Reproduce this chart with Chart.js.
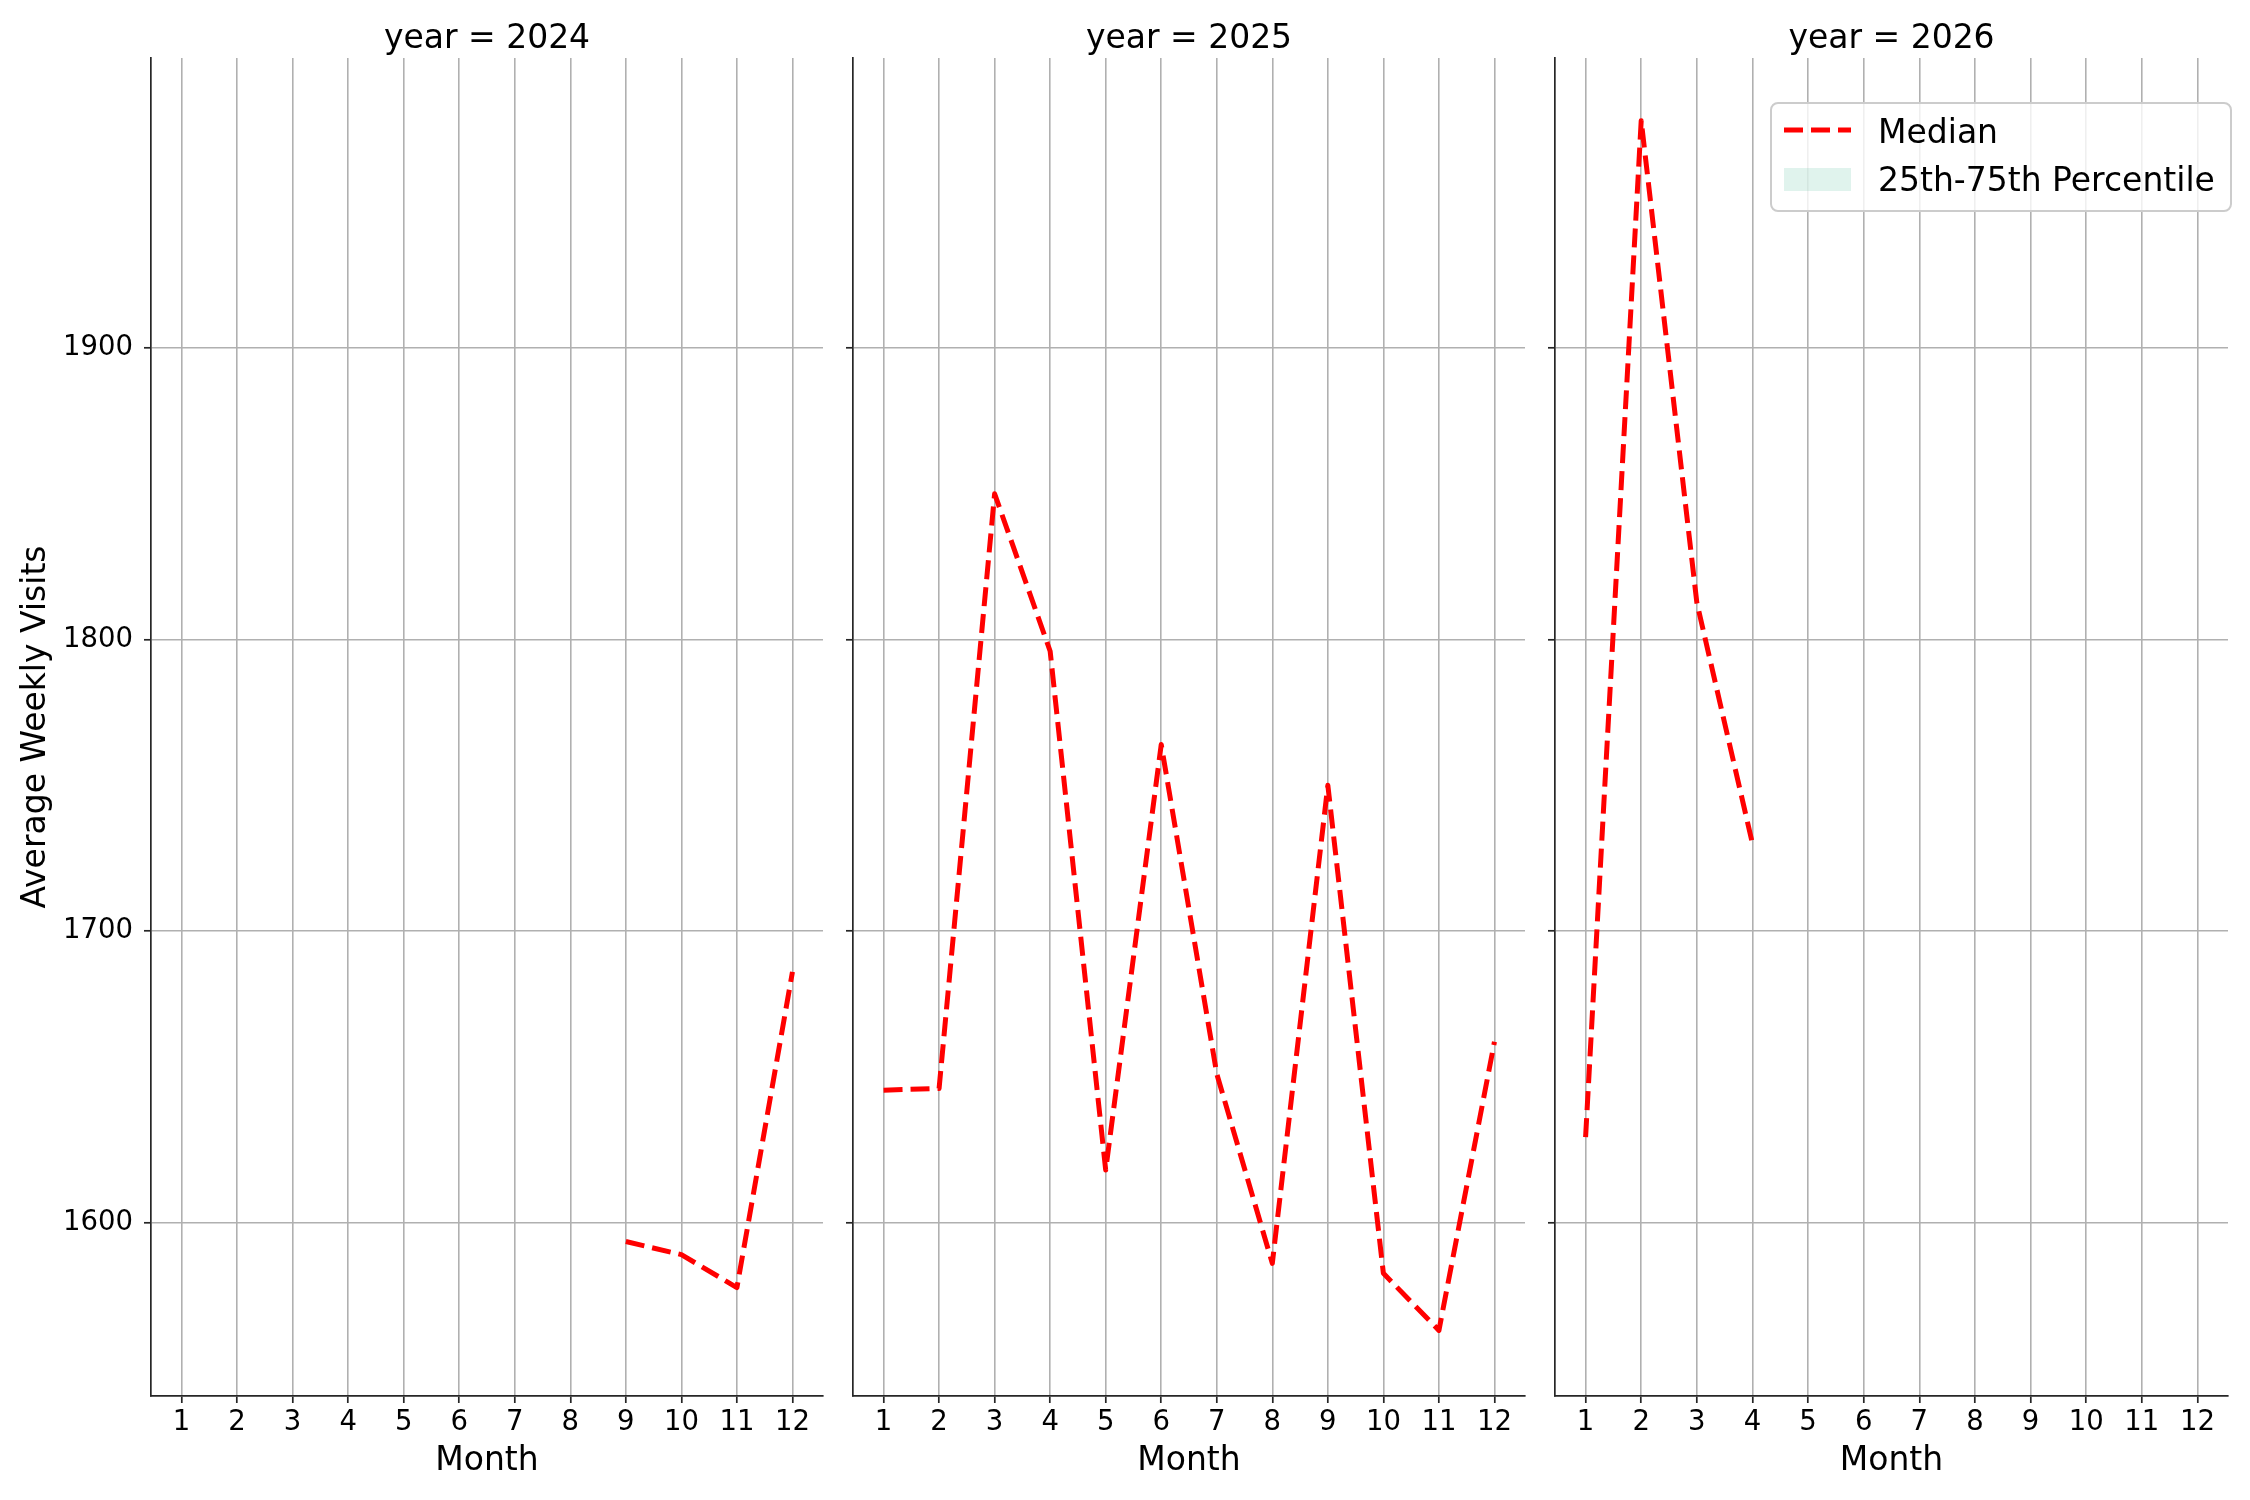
<!DOCTYPE html>
<html>
<head>
<meta charset="utf-8">
<title>Average Weekly Visits by Month</title>
<script src="https://cdn.jsdelivr.net/npm/chart.js@4.4.1/dist/chart.umd.min.js"></script>
<style>
    html, body { margin: 0; padding: 0; background: #ffffff; }
    #page { position: relative; width: 2250px; height: 1500px; overflow: hidden; }
    .panel { position: absolute; top: 0; height: 1500px; }
</style>
</head>
<body>
<div id="page">
    <div class="panel" style="left: 0px; width: 831px;"><canvas id="c2024"></canvas></div>
    <div class="panel" style="left: 843px; width: 690px;"><canvas id="c2025"></canvas></div>
    <div class="panel" style="left: 1545px; width: 693px;"><canvas id="c2026"></canvas></div>
</div>
<script>
const months = [1, 2, 3, 4, 5, 6, 7, 8, 9, 10, 11, 12];
const years = [2024, 2025, 2026];

const median2024 = [null, null, null, null, null, null, null, null, 1593.5, 1589, 1577.7, 1686];
const median2025 = [1645.4, 1646, 1850, 1796, 1618, 1764, 1651, 1586, 1750, 1582.6, 1563, 1662];
const median2026 = [1629.3, 1978, 1812.7, 1730, null, null, null, null, null, null, null, null];

const yTicks = [1600, 1700, 1800, 1900];
const yMin = 1540.5;
const yMax = 1999.5;
const xMin = 0.45;
const xMax = 12.55;

const seriesLabel = 'Median';
const bandLabel = '25th-75th Percentile';

const FONT = '"DejaVu Sans", "Liberation Sans", sans-serif';
const INK = '#000000';
const SPINE = '#262626';
const GRID = '#b0b0b0';

// facet title, centred over the plotting area
const panelTitle = {
    id: 'panelTitle',
    afterDraw(chart, args, opts) {
        const { ctx, chartArea } = chart;
        ctx.save();
        ctx.font = `${opts.size}px ${FONT}`;
        ctx.fillStyle = INK;
        ctx.textAlign = 'center';
        ctx.textBaseline = 'alphabetic';
        ctx.fillText(opts.text, (chartArea.left + chartArea.right) / 2, opts.baseline);
        ctx.restore();
    },
};

// matplotlib-like framed legend in the upper right corner
const boxLegend = {
    id: 'boxLegend',
    afterDatasetsDraw(chart, args, opts) {
        if (!opts.show) {
            return;
        }
        const { ctx, chartArea } = chart;
        const w = 460;
        const h = 108;
        const x = chartArea.right + 3 - w;
        const y = chartArea.top + 45;

        ctx.save();
        ctx.beginPath();
        ctx.roundRect(x, y, w, h, 7);
        ctx.fillStyle = 'rgba(255, 255, 255, 0.8)';
        ctx.fill();
        ctx.lineWidth = 2;
        ctx.strokeStyle = '#cccccc';
        ctx.stroke();

        chart.data.datasets.forEach((ds, i) => {
            const base = y + 40 + i * 48;
            if (ds.fill) {
                ctx.fillStyle = ds.backgroundColor;
                ctx.fillRect(x + 13, base - 23, 67, 23);
            } else {
                ctx.beginPath();
                ctx.setLineDash(ds.borderDash);
                ctx.lineWidth = ds.borderWidth;
                ctx.strokeStyle = ds.borderColor;
                ctx.moveTo(x + 13, base - 13);
                ctx.lineTo(x + 80, base - 13);
                ctx.stroke();
                ctx.setLineDash([]);
            }
            ctx.font = `33px ${FONT}`;
            ctx.fillStyle = INK;
            ctx.textAlign = 'left';
            ctx.textBaseline = 'alphabetic';
            ctx.fillText(ds.label, x + 107, base);
        });
        ctx.restore();
    },
};

const buildPanel = (canvasId, year, values, first, last) => {
    const canvas = document.getElementById(canvasId);

    return new Chart(canvas, {
        type: 'line',
        data: {
            datasets: [
                {
                    label: seriesLabel,
                    data: months.map((m, i) => ({ x: m, y: values[i] })),
                    borderColor: '#ff0000',
                    borderWidth: 5,
                    borderDash: [19, 8],
                    borderJoinStyle: 'round',
                    pointRadius: 0,
                    fill: false,
                    spanGaps: false,
                },
                {
                    label: bandLabel,
                    data: [],
                    backgroundColor: 'rgba(102, 194, 165, 0.2)',
                    borderWidth: 0,
                    pointRadius: 0,
                    fill: 'origin',
                },
            ],
        },
        options: {
            responsive: true,
            maintainAspectRatio: false,
            animation: false,
            events: [],
            layout: {
                padding: { top: 58, right: last ? 10 : 8, bottom: 0, left: 0 },
            },
            plugins: {
                legend: { display: false },
                tooltip: { enabled: false },
                title: { display: false },
                panelTitle: { text: `year = ${year}`, size: 33, baseline: 48 },
                boxLegend: { show: last },
            },
            scales: {
                x: {
                    type: 'linear',
                    min: xMin,
                    max: xMax,
                    afterBuildTicks: (scale) => {
                        scale.ticks = months.map((m) => ({ value: m }));
                    },
                    afterFit: (scale) => {
                        scale.height = 104;
                    },
                    ticks: {
                        color: INK,
                        font: { family: FONT, size: 27.5 },
                        padding: 3,
                        maxRotation: 0,
                        autoSkip: false,
                        callback: (value) => String(value),
                    },
                    grid: {
                        color: GRID,
                        lineWidth: 1.6,
                        tickColor: SPINE,
                        tickLength: 7,
                        tickWidth: 1.7,
                    },
                    border: { display: true, color: SPINE, width: 1.7 },
                    title: {
                        display: true,
                        text: 'Month',
                        color: INK,
                        font: { family: FONT, size: 33 },
                        padding: { top: 0, bottom: 19 },
                    },
                },
                y: {
                    type: 'linear',
                    min: yMin,
                    max: yMax,
                    afterBuildTicks: (scale) => {
                        scale.ticks = yTicks.map((v) => ({ value: v }));
                    },
                    afterFit: (scale) => {
                        scale.width = first ? 151 : 10;
                    },
                    ticks: {
                        display: first,
                        color: INK,
                        font: { family: FONT, size: 27.5 },
                        padding: 11,
                        callback: (value) => String(value),
                    },
                    grid: {
                        color: GRID,
                        lineWidth: 1.6,
                        tickColor: SPINE,
                        tickLength: 7,
                        tickWidth: 1.7,
                    },
                    border: { display: true, color: SPINE, width: 1.7 },
                    title: {
                        display: first,
                        text: 'Average Weekly Visits',
                        color: INK,
                        font: { family: FONT, size: 33 },
                        padding: { top: 17, bottom: 0 },
                    },
                },
            },
        },
        plugins: [panelTitle, boxLegend],
    });
};

const medians = [median2024, median2025, median2026];

years.forEach((year, index) => {
    buildPanel(`c${year}`, year, medians[index], index === 0, index === years.length - 1);
});
</script>
</body>
</html>
